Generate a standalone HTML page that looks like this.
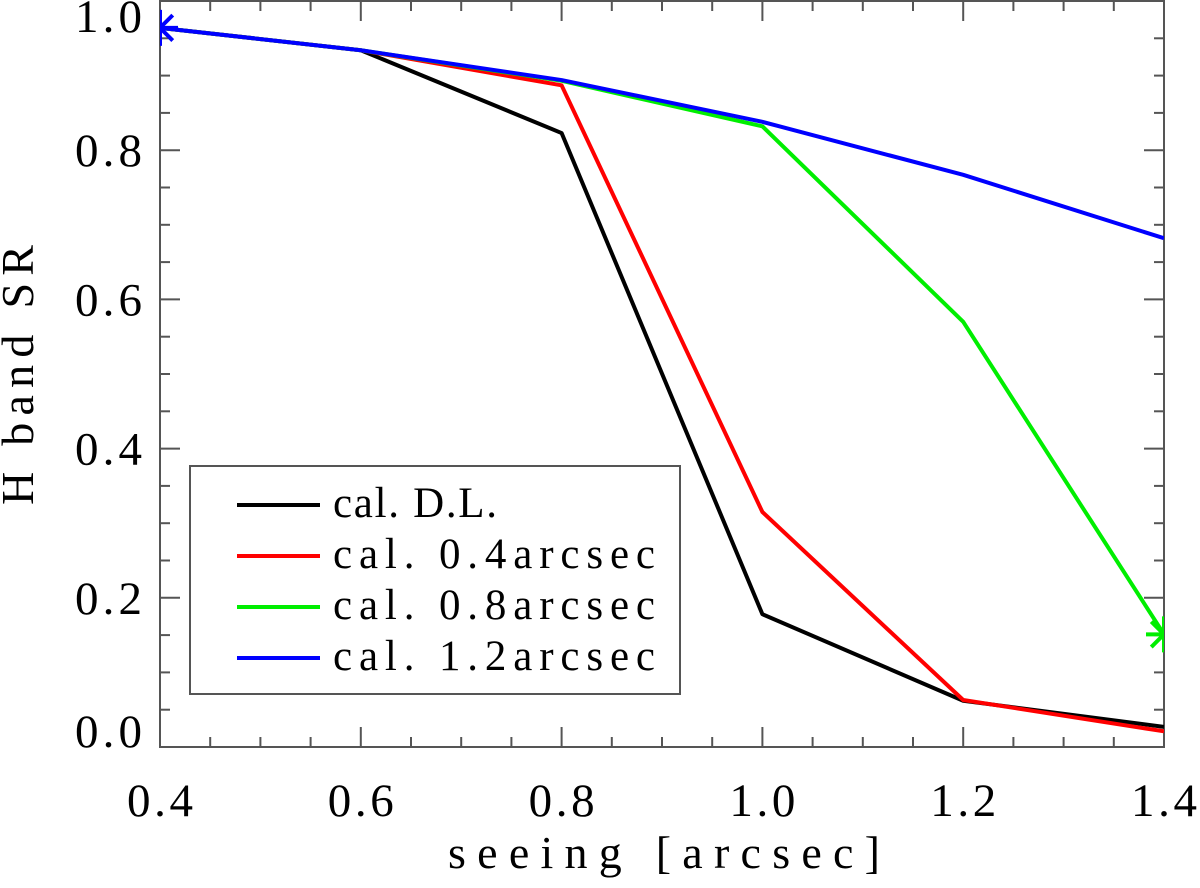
<!DOCTYPE html>
<html><head><meta charset="utf-8"><style>
body{margin:0;background:#fff;}
svg{display:block;font-family:"Liberation Serif",serif;}
</style></head><body>
<svg id="c" width="1200" height="888"></svg>
<script>
const xs=[0.4,0.6,0.8,1.0,1.2,1.4];
const seriesDL=[0.964,0.934,0.823,0.178,0.062,0.027];
const series04=[0.964,0.934,0.887,0.315,0.063,0.021];
const series08=[0.964,0.934,0.893,0.832,0.570,0.151];
const series12=[0.964,0.934,0.894,0.838,0.767,0.682];
const xTicks=["0.4","0.6","0.8","1.0","1.2","1.4"];
const yTicks=["0.0","0.2","0.4","0.6","0.8","1.0"];
const legendLabels=["cal. D.L.","cal. 0.4arcsec","cal. 0.8arcsec","cal. 1.2arcsec"];
const legendWidths=[164,322,322,322];
const colors=["#000","#f00","#0e0","#00f"];
const L=160,R=1164,T=1,B=747;
const X=v=>L+(v-0.4)/1.0*(R-L);
const Y=v=>B-v*(B-T);
const svg=document.getElementById('c');
const NS='http://www.w3.org/2000/svg';
function mk(t,a,p){const e=document.createElementNS(NS,t);for(const k in a)e.setAttribute(k,a[k]);(p||svg).appendChild(e);return e;}
const defs=mk('defs',{});const cp=mk('clipPath',{id:'pc'},defs);mk('rect',{x:L,y:T,width:R-L,height:B-T},cp);
let e=mk('rect',{x:L,y:T,width:R-L,height:B-T,fill:'none',stroke:'#555','stroke-width':2});

for(let i=0;i<=20;i++){const v=0.4+i*0.05;const x=X(v);const len=i%4===0?20:10;
 mk('line',{x1:x,y1:B,x2:x,y2:B-len,stroke:'#555','stroke-width':2});
 mk('line',{x1:x,y1:T,x2:x,y2:T+len,stroke:'#555','stroke-width':2});}
xTicks.forEach((t,i)=>{e=mk('text',{x:X(xs[i])-33,y:816,'font-size':47,fill:'#000',textLength:66,lengthAdjust:'spacing'});e.textContent=t;
 });
for(let i=0;i<=20;i++){const v=i*0.05;const y=Y(v);const len=i%4===0?20:10;
 mk('line',{x1:L,y1:y,x2:L+len,y2:y,stroke:'#555','stroke-width':2});
 mk('line',{x1:R,y1:y,x2:R-len,y2:y,stroke:'#555','stroke-width':2});}
yTicks.forEach((t,i)=>{let by=Y(i*0.2)+16;by=Math.max(32,Math.min(747,by));
 e=mk('text',{x:75,y:by,'font-size':47,fill:'#000',textLength:67,lengthAdjust:'spacing'});e.textContent=t;
 });
e=mk('text',{x:448,y:868,'font-size':46,textLength:432,lengthAdjust:'spacing'});e.textContent='seeing [arcsec]';

e=mk('text',{x:33,y:505,'font-size':46,transform:'rotate(-90 33 505)',textLength:260,lengthAdjust:'spacing'});e.textContent='H band SR';

const g=mk('g',{'clip-path':'url(#pc)'});
[seriesDL,series04,series08,series12].forEach((s,k)=>{
 e=mk('polyline',{points:s.map((v,i)=>X(xs[i])+','+Y(v)).join(' '),fill:'none',stroke:colors[k],'stroke-width':4,'stroke-linejoin':'round'},g);
 });
function star(x,y,c){for(let a=0;a<180;a+=45){const r=a*Math.PI/180;
 mk('line',{x1:x-18*Math.cos(r),y1:y-18*Math.sin(r),x2:x+18*Math.cos(r),y2:y+18*Math.sin(r),stroke:c,'stroke-width':4},g);}}
star(X(xs[0]),Y(series12[0]),colors[3]);
star(X(xs[5]),Y(series08[5]),colors[2]);
e=mk('rect',{x:190,y:466,width:490,height:228,fill:'#fff',stroke:'#555','stroke-width':2});

legendLabels.forEach((t,k)=>{const y=505+k*51;
 mk('line',{x1:237,y1:y,x2:320,y2:y,stroke:colors[k],'stroke-width':4});
 e=mk('text',{x:333,y:y+12,'font-size':43,textLength:legendWidths[k],lengthAdjust:'spacing'});e.textContent=t;
 });
</script>
</body></html>
